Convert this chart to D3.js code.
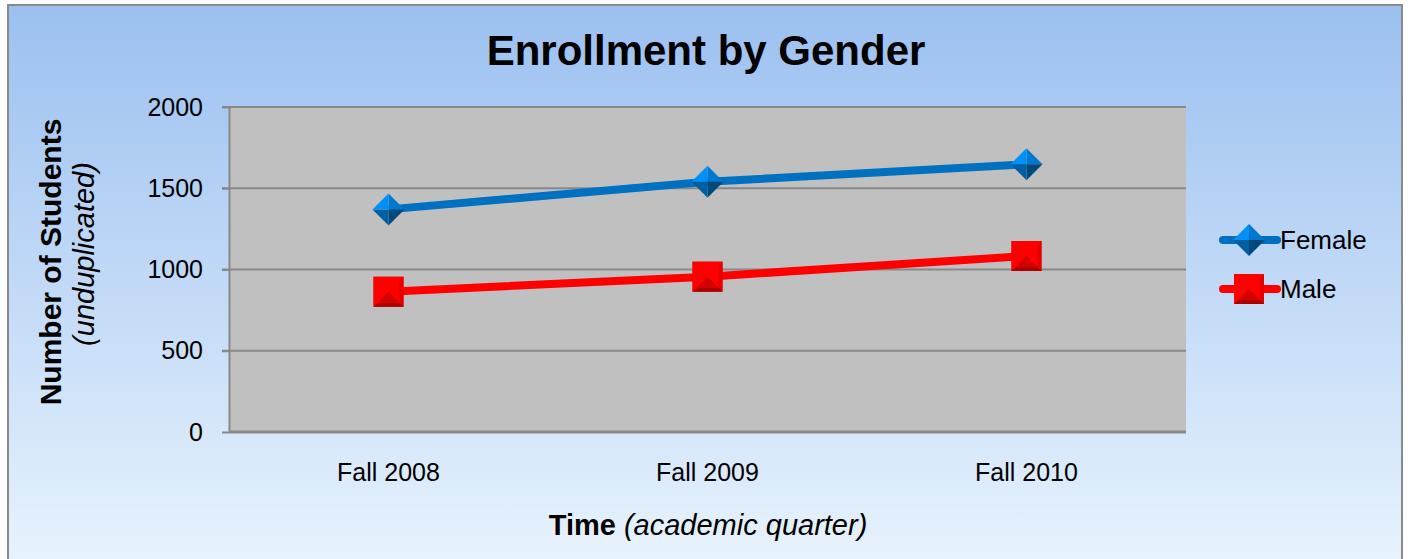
<!DOCTYPE html>
<html>
<head>
<meta charset="utf-8">
<script src="https://cdn.jsdelivr.net/npm/d3@7"></script>
<style>
  body { margin: 0; background: #fff; }
  svg { display: block; font-family: "Liberation Sans", Arial, sans-serif; }
</style>
</head>
<body>
<div id="chart"></div>
<script>
// chart data
var categories = ['Fall 2008', 'Fall 2009', 'Fall 2010']
var female = [1370, 1540, 1647]
var male = [863, 956, 1083]
var yTicks = [0, 500, 1000, 1500, 2000]
var seriesNames = ['Female', 'Male']

var W = 1408, H = 559
var plot = {left: 229, right: 1186, top: 107, bottom: 432}
var fontFamily = '"Liberation Sans", Arial, sans-serif'

var svg = d3.select('#chart').append('svg')
  .attr('width', W)
  .attr('height', H)

var defs = svg.append('defs')
var bg = defs.append('linearGradient').attr('id', 'bg')
  .attr('x1', 0).attr('y1', 0).attr('x2', 0).attr('y2', 1)
bg.append('stop').attr('offset', '0%').attr('stop-color', '#9bc0f0')
bg.append('stop').attr('offset', '100%').attr('stop-color', '#e8f3fd')

// outer chart area
svg.append('rect')
  .attr('x', 8).attr('y', 5)
  .attr('width', 1394).attr('height', 560)
  .attr('fill', 'url(#bg)')
  .attr('stroke', '#8a8a8a')
  .attr('stroke-width', 2)

var x = d3.scaleBand().domain(categories).range([plot.left, plot.right]).padding(0)
var y = d3.scaleLinear().domain([0, 2000]).range([plot.bottom, plot.top])

svg.append('rect')
  .attr('x', plot.left).attr('y', plot.top)
  .attr('width', plot.right - plot.left).attr('height', plot.bottom - plot.top)
  .attr('fill', '#c0c0c0')

// gridlines
svg.append('g')
  .selectAll('line')
  .data(yTicks.filter(function (d) { return d > 0 }))
  .enter().append('line')
  .attr('x1', plot.left - 7).attr('x2', plot.right)
  .attr('y1', function (d) { return y(d) }).attr('y2', function (d) { return y(d) })
  .attr('stroke', '#888').attr('stroke-width', 2)

// y axis
var yAxis = svg.append('g')
  .attr('transform', 'translate(' + plot.left + ',0)')
  .call(d3.axisLeft(y).tickValues(yTicks).tickFormat(d3.format('d'))
    .tickSize(7).tickPadding(19).tickSizeOuter(0))
yAxis.select('.domain').attr('stroke', '#888').attr('stroke-width', 2)
yAxis.selectAll('.tick line').attr('stroke', '#888').attr('stroke-width', 2)
yAxis.selectAll('text').attr('font-size', 25).attr('fill', '#000')
  .attr('font-family', fontFamily)

// x axis
var xAxis = svg.append('g')
  .attr('transform', 'translate(0,' + plot.bottom + ')')
  .call(d3.axisBottom(x).tickSize(0).tickPadding(31))
xAxis.select('.domain').attr('stroke', '#888').attr('stroke-width', 3)
  .attr('d', 'M' + plot.left + ',0H' + plot.right)
xAxis.selectAll('text').attr('font-size', 25).attr('fill', '#000')
  .attr('font-family', fontFamily)

// title
svg.append('text')
  .attr('x', 706).attr('y', 65)
  .attr('text-anchor', 'middle')
  .attr('font-size', 42).attr('font-weight', 'bold')
  .text('Enrollment by Gender')

// axis titles
var xt = svg.append('text')
  .attr('x', 708).attr('y', 535)
  .attr('text-anchor', 'middle')
  .attr('font-size', 29)
xt.append('tspan').attr('font-weight', 'bold').text('Time ')
xt.append('tspan').attr('font-style', 'italic').text('(academic quarter)')

svg.append('text')
  .attr('transform', 'translate(61,262) rotate(-90)')
  .attr('text-anchor', 'middle')
  .attr('font-size', 30).attr('font-weight', 'bold')
  .text('Number of Students')
svg.append('text')
  .attr('transform', 'translate(94,254) rotate(-90)')
  .attr('text-anchor', 'middle')
  .attr('font-size', 29).attr('font-style', 'italic')
  .text('(unduplicated)')

var line = d3.line()
  .x(function (d, i) { return x(categories[i]) + x.bandwidth() / 2 })
  .y(function (d) { return y(d) })

var series = [
  {name: seriesNames[0], values: female, color: '#0070c0', shape: 'diamond'},
  {name: seriesNames[1], values: male, color: '#ff0000', shape: 'square'}
]

// bevelled marker: four facets with different shades
function marker(g, shape, color, cx, cy) {
  var c = d3.color(color)
  var r = shape === 'diamond' ? 16 : 15
  var m = g.append('g').attr('transform', 'translate(' + cx + ',' + cy + ')')
  if (shape === 'square') {
    var shades = [c.brighter(0.6), c.darker(0.3), c.darker(1.1), c]
    var pts = [[-r, -r], [r, -r], [r, r], [-r, r]]
    m.append('rect').attr('x', -r).attr('y', -r).attr('width', 2 * r).attr('height', 2 * r)
      .attr('fill', c.darker(0.4))
    var ir = r - 4
    var ip = [[-ir, -ir], [ir, -ir], [ir, ir], [-ir, ir]]
    for (var k = 0; k < 4; k++) {
      var a = pts[k], b = pts[(k + 1) % 4], ia = ip[k], ib = ip[(k + 1) % 4]
      m.append('path')
        .attr('d', 'M' + a + 'L' + b + 'L' + ib + 'L' + ia + 'Z')
        .attr('fill', shades[k])
    }
    for (var k2 = 0; k2 < 4; k2++) {
      m.append('path')
        .attr('d', 'M0,0L' + ip[k2] + 'L' + ip[(k2 + 1) % 4] + 'Z')
        .attr('fill', k2 === 0 ? c.brighter(0.3) : (k2 === 2 ? c.darker(0.5) : c))
    }
  } else {
    // top-right, bottom-right, bottom-left, top-left
    var dshades = [c.brighter(0.2), c.darker(1.2), c.darker(0.5), c.brighter(0.7)]
    var dp = [[0, -r], [r, 0], [0, r], [-r, 0]]
    for (var j = 0; j < 4; j++) {
      m.append('path')
        .attr('d', 'M0,0L' + dp[j] + 'L' + dp[(j + 1) % 4] + 'Z')
        .attr('fill', dshades[j])
    }
  }
}

series.forEach(function (s) {
  svg.append('path')
    .attr('d', line(s.values))
    .attr('fill', 'none')
    .attr('stroke', s.color)
    .attr('stroke-width', 8)
  var g = svg.append('g')
  s.values.forEach(function (v, i) {
    marker(g, s.shape, s.color, x(categories[i]) + x.bandwidth() / 2, y(v))
  })
})

// legend
var legend = svg.append('g')
series.forEach(function (s, i) {
  var ly = 240 + i * 49
  legend.append('line')
    .attr('x1', 1223).attr('x2', 1277)
    .attr('y1', ly).attr('y2', ly)
    .attr('stroke', s.color).attr('stroke-width', 8)
    .attr('stroke-linecap', 'round')
  marker(legend, s.shape, s.color, 1249, ly)
  legend.append('text')
    .attr('x', 1280).attr('y', ly + 9)
    .attr('font-size', 26)
    .text(s.name)
})
</script>
</body>
</html>
